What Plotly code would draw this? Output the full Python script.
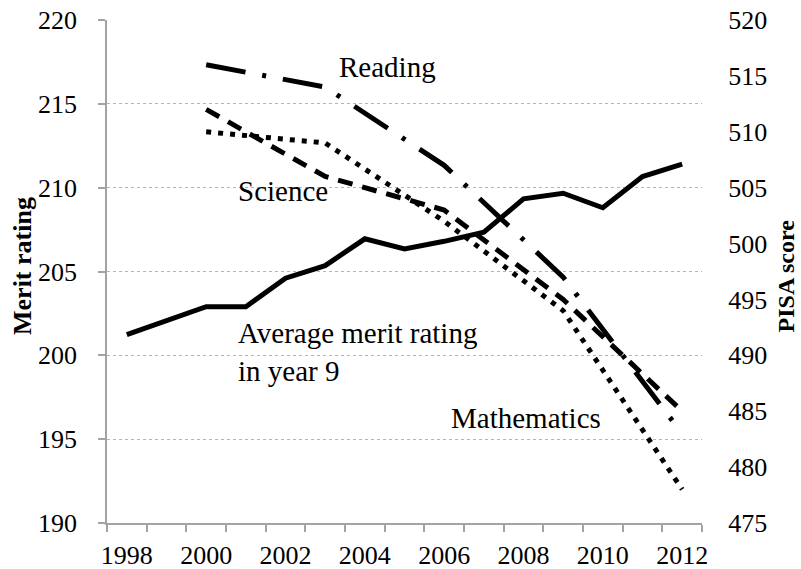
import plotly.graph_objects as go

# ---- data ----
merit_years = [1998, 1999, 2000, 2001, 2002, 2003, 2004, 2005, 2006, 2007, 2008, 2009, 2010, 2011, 2012]
merit_rating = [201.24, 202.07, 202.9, 202.9, 204.6, 205.35, 206.95, 206.35, 206.8, 207.34, 209.33, 209.67, 208.8, 210.66, 211.4]

pisa_years = [2000, 2003, 2006, 2009, 2012]
pisa_reading = [516, 514, 507, 497, 483]
pisa_science = [512, 506, 503, 495, 485]
pisa_math = [510, 509, 502, 494, 478]

year_ticks = [1998, 2000, 2002, 2004, 2006, 2008, 2010, 2012]
left_ticks = [190, 195, 200, 205, 210, 215, 220]
right_ticks = [475, 480, 485, 490, 495, 500, 505, 510, 515, 520]

FONT = "Liberation Serif"
AXIS_GRAY = "#a3a3a3"

fig = go.Figure()

fig.add_trace(go.Scatter(x=merit_years, y=merit_rating, mode="lines",
                         line=dict(color="black", width=5), yaxis="y", name="Merit"))
fig.add_trace(go.Scatter(x=pisa_years, y=pisa_reading, mode="lines",
                         line=dict(color="black", width=5, dash="40px,17px,4px,17px"),
                         yaxis="y2", name="Reading"))
fig.add_trace(go.Scatter(x=pisa_years, y=pisa_science, mode="lines",
                         line=dict(color="black", width=5, dash="15px,10px"),
                         yaxis="y2", name="Science"))
fig.add_trace(go.Scatter(x=pisa_years, y=pisa_math, mode="lines",
                         line=dict(color="black", width=5, dash="5px,7px"),
                         yaxis="y2", name="Mathematics"))

ann_font = dict(family=FONT, size=29, color="black")
fig.update_layout(
    width=801, height=569,
    margin=dict(l=107, r=99, t=20, b=46, autoexpand=False),
    paper_bgcolor="white", plot_bgcolor="white",
    showlegend=False,
    font=dict(family=FONT, size=26, color="black"),
    xaxis=dict(range=[1997.5, 2012.5], tickmode="array", tickvals=year_ticks,
               ticktext=[str(y) for y in year_ticks], ticks="", showgrid=False,
               showline=True, linecolor=AXIS_GRAY, linewidth=1.5, zeroline=False,
               automargin=False, ticklabelstandoff=8, ticklabeloverflow="allow",
               tickfont=dict(family=FONT, size=26),
               minor=dict(ticks="outside", tick0=1997.5, dtick=1, ticklen=7,
                          tickcolor=AXIS_GRAY, tickwidth=1.5, showgrid=False)),
    yaxis=dict(range=[190, 220], tickmode="array", tickvals=left_ticks,
               ticks="outside", ticklen=7, tickcolor=AXIS_GRAY, tickwidth=1.5,
               showline=True, linecolor=AXIS_GRAY, linewidth=1.5,
               showgrid=True, gridcolor="#b5b5b5", gridwidth=1, griddash="dot",
               zeroline=False, automargin=False, ticklabelstandoff=16,
               ticklabeloverflow="allow",
               tickfont=dict(family=FONT, size=26)),
    # PISA axis: labels pushed out with long invisible ticks
    yaxis2=dict(range=[475, 520], tickmode="array", tickvals=right_ticks,
                overlaying="y", side="right",
                ticks="outside", ticklen=20, tickcolor="rgba(0,0,0,0)",
                showline=False, showgrid=False, zeroline=False, automargin=False,
                ticklabeloverflow="allow",
                tickfont=dict(family=FONT, size=26)),
    # visible right axis line and short tick marks
    yaxis3=dict(range=[475, 520], tickmode="array", tickvals=right_ticks,
                overlaying="y", side="right", showticklabels=False,
                ticks="outside", ticklen=7, tickcolor=AXIS_GRAY, tickwidth=1.5,
                showline=True, linecolor=AXIS_GRAY, linewidth=1.5,
                showgrid=False, zeroline=False, automargin=False),
    annotations=[
        dict(text="Reading", x=2003.31, y=217.2, xref="x", yref="y",
             xanchor="left", yanchor="middle", showarrow=False, font=ann_font),
        dict(text="Science", x=2000.74, y=209.83, xref="x", yref="y",
             xanchor="left", yanchor="middle", showarrow=False, font=ann_font),
        dict(text="Average merit rating<br>in year 9", x=2000.74, y=200.17, xref="x", yref="y",
             xanchor="left", yanchor="middle", align="left", showarrow=False, font=ann_font),
        dict(text="Mathematics", x=2006.13, y=196.24, xref="x", yref="y",
             xanchor="left", yanchor="middle", showarrow=False, font=ann_font),
        dict(text="<b>Merit rating</b>", x=-0.142, y=0.51, xref="paper", yref="paper",
             textangle=-90, xanchor="center", yanchor="middle", showarrow=False,
             font=dict(family=FONT, size=26, color="black")),
        dict(text="<b>PISA score</b>", x=1.141, y=0.492, xref="paper", yref="paper",
             textangle=-90, xanchor="center", yanchor="middle", showarrow=False,
             font=dict(family=FONT, size=24, color="black")),
    ],
)

fig.write_html("out.html", config={"displayModeBar": False},
               post_script="document.body.style.margin='0';")
